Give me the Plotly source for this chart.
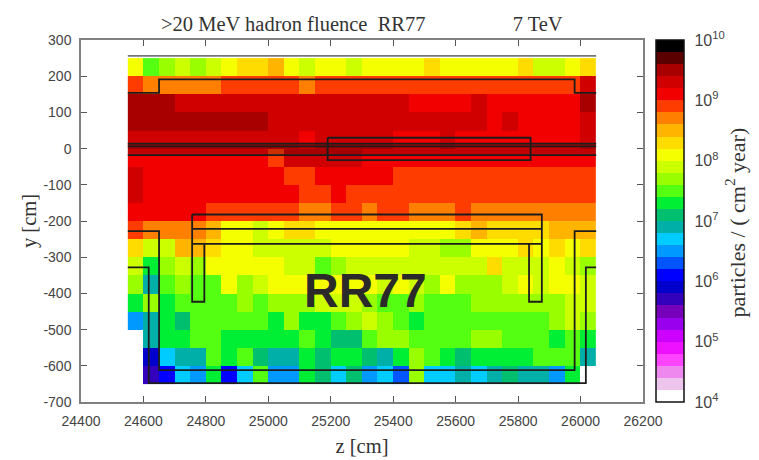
import math
import plotly.graph_objects as go

z_centers = [24575 + 50 * i for i in range(30)]
y_centers = [225 - 50 * i for i in range(18)]

# log10(fluence) per cell, top row first
log_fluence = [
 [8.1,7.5,7.7,7.9,7.7,7.9,8.1,8.3,8.3,8.5,8.1,7.9,8.1,8.1,7.9,8.1,8.1,8.1,8.1,8.3,8.1,8.1,8.1,8.1,8.1,8.3,7.9,7.9,8.1,8.3],
 [8.9,8.7,8.7,8.7,8.7,8.7,8.9,8.9,8.9,8.9,8.9,8.7,8.9,8.9,8.9,8.9,8.9,8.9,8.9,8.9,8.9,8.9,8.9,8.9,8.9,8.9,8.9,8.9,8.9,9.3],
 [9.5,9.5,9.5,9.3,9.3,9.3,9.3,9.3,9.3,9.3,9.3,9.3,9.3,9.3,9.3,9.3,9.3,9.3,9.1,9.1,9.1,9.1,9.3,9.1,9.1,9.1,9.1,9.1,9.1,9.5],
 [9.5,9.5,9.5,9.5,9.5,9.5,9.5,9.5,9.5,9.3,9.3,9.3,9.3,9.3,9.3,9.3,9.3,9.3,9.3,9.3,9.3,9.3,9.3,9.1,9.3,9.1,9.1,9.1,9.1,9.3],
 [9.3,9.3,9.3,9.3,9.3,9.3,9.3,9.3,9.3,9.3,9.3,9.1,9.3,9.3,9.3,9.3,9.3,9.1,9.1,9.1,9.3,9.1,9.1,9.1,9.1,9.1,9.1,9.1,9.1,9.3],
 [9.1,9.1,9.1,9.1,9.1,9.1,9.1,9.1,9.1,8.9,9.3,9.3,9.3,9.3,9.3,9.1,9.1,9.1,9.1,9.1,9.1,9.1,9.1,9.1,9.1,9.1,9.1,9.1,9.1,9.1],
 [9.3,9.1,9.1,9.1,9.1,9.1,9.1,9.1,9.1,9.1,8.9,8.9,9.1,9.1,9.1,9.1,9.1,8.9,8.9,8.9,8.9,8.9,8.9,8.9,8.9,8.9,8.9,8.9,8.9,8.9],
 [9.3,9.1,9.1,9.1,9.1,9.1,9.1,9.1,9.1,9.1,9.1,8.9,8.9,9.1,8.9,8.9,8.9,8.9,8.9,8.9,8.9,8.9,8.9,8.9,8.9,8.9,8.9,8.9,8.9,8.9],
 [9.1,9.1,9.1,9.1,9.1,8.9,8.9,8.9,8.9,8.9,8.9,8.7,8.7,8.9,8.9,8.7,8.9,8.9,8.7,8.7,8.7,8.9,8.7,8.7,8.7,8.7,8.7,8.7,8.7,8.7],
 [8.9,8.7,8.7,8.7,8.7,8.5,8.1,8.1,7.9,8.1,8.3,8.3,8.1,8.1,8.1,8.1,8.1,8.1,8.1,8.1,8.1,8.3,8.5,8.3,8.3,8.3,8.3,8.5,8.5,8.5],
 [8.3,7.9,7.9,8.5,8.5,8.3,8.1,8.1,7.9,7.9,7.9,7.9,7.9,8.1,8.1,8.1,8.1,8.1,7.9,7.9,7.7,7.7,8.1,8.1,8.1,8.3,8.1,8.3,8.1,8.3],
 [7.9,7.3,7.7,7.9,7.7,8.1,8.1,8.1,8.1,8.1,7.9,7.9,7.5,7.7,7.9,7.9,7.9,7.9,7.9,7.9,7.9,7.9,7.9,8.3,7.9,7.9,7.9,8.1,7.9,7.7],
 [7.7,6.9,7.5,7.7,7.5,7.5,8.1,7.7,7.9,8.1,8.1,8.1,8.1,8.1,8.1,8.1,7.9,8.1,7.9,7.7,8.1,7.7,7.7,7.7,7.9,8.1,7.9,8.1,8.1,7.9],
 [7.3,7.7,7.3,7.5,7.5,7.5,7.5,7.7,7.5,7.7,7.7,7.7,7.9,7.9,7.9,7.7,7.5,7.5,7.7,7.5,7.5,7.5,7.7,7.7,7.7,7.7,7.7,7.7,7.9,7.9],
 [6.5,6.9,7.3,7.1,7.5,7.5,7.5,7.5,7.5,7.3,7.7,7.3,7.3,7.5,7.7,7.9,7.7,7.5,7.3,7.5,7.5,7.5,7.5,7.5,7.5,7.5,7.5,7.7,7.9,7.7],
 [None,6.9,7.3,7.3,7.5,7.5,7.3,7.3,7.3,7.3,7.3,7.5,7.3,7.1,7.1,7.5,7.7,7.7,7.5,7.5,7.5,7.5,7.7,7.7,7.5,7.5,7.5,7.3,7.5,7.3],
 [None,5.9,6.7,6.9,6.9,7.5,7.3,7.5,7.1,6.9,6.9,7.3,7.1,7.3,7.3,7.1,6.9,7.3,7.7,7.5,7.3,7.1,7.3,7.3,7.3,7.3,7.5,7.5,7.5,6.9],
 [None,5.7,6.1,6.7,6.5,7.3,6.1,6.7,7.5,6.5,6.5,7.3,7.1,6.7,7.1,6.5,6.7,6.3,7.7,6.7,6.7,6.9,6.7,6.9,7.1,6.9,6.9,6.5,7.3,None],
]

level_colors = [
 "#ffffff","#ecc4ec","#ee88ee","#ff44ff","#ee11ff","#cc00ff","#9900ee","#7700bb","#3300bb","#0000cc",
 "#0000ff","#0055ff","#0099ff","#00ccff","#00b0a8","#00c070","#00ee33","#55ff11","#99ff00","#ccff00",
 "#f5ff00","#ffdc00","#ffb400","#ff8000","#ff3c00","#f20000","#d00000","#a80000","#5a0000","#000000",
]
colorscale = []
for i, c in enumerate(level_colors):
    colorscale += [[i / 30, c], [(i + 1) / 30, c]]

major_ticks = [4, 5, 6, 7, 8, 9, 10]
major_text = [f"10<sup>{d}</sup>" for d in major_ticks]
minor_ticks = [d + math.log10(m) for d in major_ticks[:-1] for m in (2, 5)] + major_ticks[1:-1]

z_ticks = list(range(24400, 26201, 200))
y_ticks = list(range(-700, 301, 100))

# Geometry outlines (z, y)
outlines = [
 ([24550, 26050], [256, 256], "#777777"),
 ([24550, 24650, 24650, 25981, 25981, 26050], [154, 154, 191, 191, 154, 154], "#1c1c1c"),
 ([24550, 26050], [14, 14], "#1c1c1c"),
 ([24550, 26050], [6, 6], "#1c1c1c"),
 ([24550, 26050], [-18, -18], "#1c1c1c"),
 ([25190, 25840, 25840, 25190, 25190], [30, 30, -32, -32, 30], "#1c1c1c"),
 ([24756, 25876, 25876, 25835, 25835, 25876], [-182, -182, -423, -423, -263, -263], "#1c1c1c"),
 ([24756, 25876], [-222, -222], "#1c1c1c"),
 ([24795, 25835], [-263, -263], "#1c1c1c"),
 ([24756, 24756, 24795, 24795, 24756], [-182, -423, -423, -263, -263], "#1c1c1c"),
 ([24550, 24650, 24650, 25981, 25981, 26050], [-228, -228, -612, -612, -228, -228], "#1c1c1c"),
 ([24550, 24617, 24617, 26017, 26017, 26050], [-328, -328, -648, -648, -328, -328], "#1c1c1c"),
]
strip_z = [24550, 26050, 26050, 24550, 24550]
strip_y = [14, 14, -18, -18, 14]

fig = go.Figure()
fig.add_trace(go.Heatmap(
    x=z_centers, y=y_centers, z=log_fluence, zmin=4, zmax=10,
    colorscale=colorscale, hoverongaps=False,
    colorbar=dict(
        x=1.0238, xanchor="left", y=0.5, yanchor="middle", len=1, lenmode="fraction",
        thickness=28, thicknessmode="pixels", xpad=0, ypad=0,
        outlinecolor="#111111", outlinewidth=1.5, borderwidth=0,
        tickmode="array", tickvals=major_ticks, ticktext=major_text,
        ticks="outside", ticklen=7, tickcolor="rgba(0,0,0,0)", tickwidth=1,
        tickfont=dict(family="Liberation Sans", size=16, color="#444444"),
    ),
))
fig.add_trace(go.Scatter(x=strip_z, y=strip_y, mode="lines", fill="toself",
                         fillcolor="rgba(0,0,0,0.2)", line=dict(width=0), hoverinfo="skip", showlegend=False))
for xs, ys, col in outlines:
    fig.add_trace(go.Scatter(x=xs, y=ys, mode="lines", line=dict(color=col, width=1.8),
                             hoverinfo="skip", showlegend=False))

axis_common = dict(showgrid=False, zeroline=False, ticks="inside", ticklen=6, tickcolor="#555555",
                   showline=True, linecolor="#808080", linewidth=1.5, mirror="ticks", ticklabelstandoff=5,
                   tickfont=dict(family="Liberation Sans", size=14, color="#444444"))
fig.update_xaxes(range=[24400, 26200], tickmode="array", tickvals=z_ticks,
                 ticktext=[str(v) for v in z_ticks],
                 title=dict(text="z [cm]", standoff=11,
                            font=dict(family="Liberation Serif", size=20.5, color="#333333")),
                 **axis_common)
fig.update_yaxes(range=[-700, 300], tickmode="array", tickvals=y_ticks,
                 ticktext=[str(v) for v in y_ticks],
                 title=dict(text="y [cm]", standoff=1,
                            font=dict(family="Liberation Serif", size=20.5, color="#333333")),
                 **axis_common)

fig.add_annotation(x=25311, y=-392, xref="x", yref="y", text="<b>RR77</b>", showarrow=False,
                   font=dict(family="Liberation Sans", size=48, color="#2a2a2a"))
fig.add_annotation(x=(727 - 73) / 561.6, xref="paper", xanchor="center",
                   y=1 - (214 - 32) / 362, yref="paper", yanchor="middle", textangle=-90,
                   text="particles / ( cm<sup>2</sup> year)", showarrow=False,
                   font=dict(family="Liberation Serif", size=22, color="#333333"))
fig.add_annotation(x=(353.5 - 73) / 561.6, xref="paper", xanchor="center",
                   y=1 + 16 / 362, yref="paper", yanchor="middle", showarrow=False,
                   text=">20 MeV hadron fluence\u00a0\u00a0RR77" + "\u00a0" * 17 + "7 TeV",
                   font=dict(family="Liberation Serif", size=20.5, color="#333333"))

# Inner ticks on both sides of the colour bar
bar_left, tick_frac, bar_frac = 1.0238, 5 / 561.6, 28 / 561.6
for v in minor_ticks:
    yp = (v - 4) / 6
    fig.add_shape(type="line", xref="paper", yref="paper", x0=bar_left, x1=bar_left + tick_frac,
                  y0=yp, y1=yp, line=dict(color="#111111", width=1))
    fig.add_shape(type="line", xref="paper", yref="paper", x0=bar_left + bar_frac - tick_frac,
                  x1=bar_left + bar_frac, y0=yp, y1=yp, line=dict(color="#111111", width=1))

fig.update_layout(
    width=759, height=460,
    margin=dict(l=73, r=124.4, t=32, b=66),
    paper_bgcolor="white", plot_bgcolor="white",
    showlegend=False,
)
fig.write_html("out.html")
